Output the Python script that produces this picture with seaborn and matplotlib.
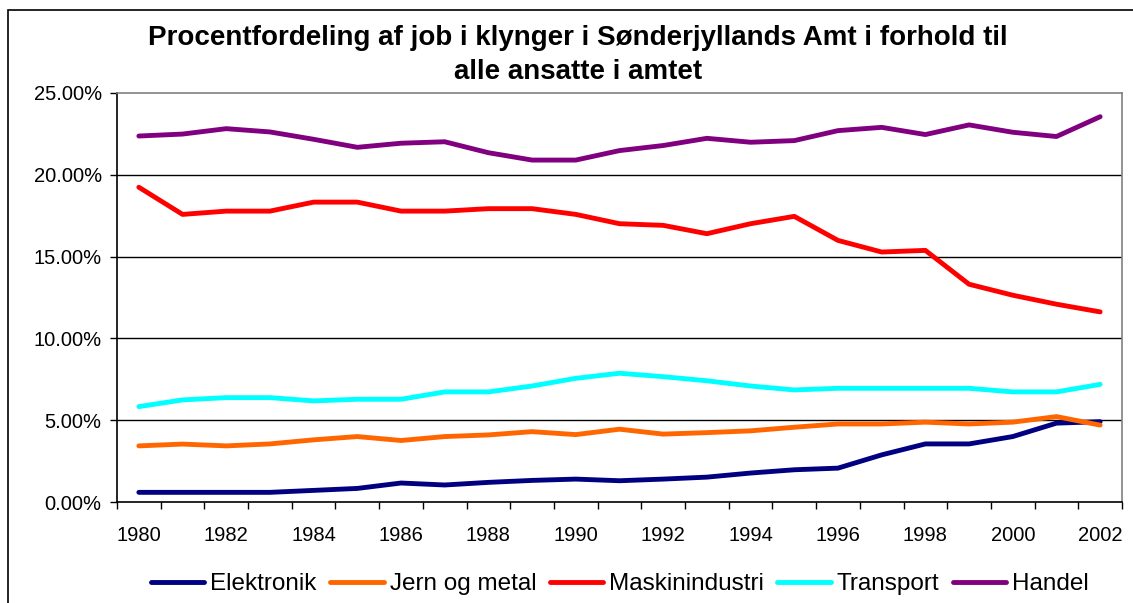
import numpy as np
import pandas as pd
import matplotlib
matplotlib.use("Agg")
import matplotlib.pyplot as plt
import matplotlib.patches as mpatches
from matplotlib.ticker import FixedLocator, FuncFormatter
import seaborn as sns

years = list(range(1980, 2003))

elektronik = [0.59, 0.59, 0.59, 0.59, 0.71, 0.83, 1.16, 1.04, 1.20, 1.32, 1.40, 1.30,
              1.40, 1.52, 1.77, 1.97, 2.07, 2.88, 3.55, 3.55, 4.00, 4.82, 4.91]
jern_og_metal = [3.43, 3.54, 3.43, 3.55, 3.80, 4.00, 3.76, 4.00, 4.10, 4.30, 4.12, 4.45,
                 4.15, 4.24, 4.35, 4.57, 4.77, 4.77, 4.88, 4.77, 4.88, 5.22, 4.70]
maskinindustri = [19.24, 17.58, 17.78, 17.78, 18.33, 18.33, 17.78, 17.78, 17.93, 17.93, 17.58, 17.01,
                  16.91, 16.40, 17.01, 17.46, 15.99, 15.28, 15.38, 13.31, 12.64, 12.09, 11.62]
transport = [5.83, 6.24, 6.38, 6.38, 6.18, 6.28, 6.28, 6.73, 6.73, 7.09, 7.56, 7.87,
             7.66, 7.41, 7.09, 6.85, 6.95, 6.95, 6.95, 6.95, 6.73, 6.73, 7.19]
handel = [22.37, 22.49, 22.82, 22.62, 22.17, 21.68, 21.93, 22.02, 21.35, 20.90, 20.90, 21.48,
          21.79, 22.23, 21.99, 22.09, 22.70, 22.90, 22.46, 23.05, 22.60, 22.34, 23.55]

series_names = ["Elektronik", "Jern og metal", "Maskinindustri", "Transport", "Handel"]
series_values = [elektronik, jern_og_metal, maskinindustri, transport, handel]
colors = ["#000080", "#FF6600", "#FF0000", "#00FFFF", "#800080"]

title = "Procentfordeling af job i klynger i Sønderjyllands Amt i forhold til\nalle ansatte i amtet"

rows = []
for name, vals in zip(series_names, series_values):
    for i, (yr, v) in enumerate(zip(years, vals)):
        rows.append({"pos": i, "year": yr, "serie": name, "pct": v})
df = pd.DataFrame(rows)

sns.set_theme(style="white")
plt.rcParams["font.family"] = ["Liberation Sans", "DejaVu Sans"]
plt.rcParams["text.color"] = "black"

fig = plt.figure(figsize=(11.33, 6.03), dpi=100)
ax = fig.add_axes([117 / 1133, 101 / 603, (1122 - 117) / 1133, (502 - 93) / 603])

sns.lineplot(data=df, x="pos", y="pct", hue="serie", hue_order=series_names,
             palette=colors, linewidth=3.5, ax=ax, legend=True)

n = len(years)
ax.set_xlim(-0.5, n - 0.5)
ax.set_ylim(0, 25)

# category axis: labels at centres, tick marks at boundaries
ax.xaxis.set_major_locator(FixedLocator(list(range(0, n, 2))))
ax.set_xticklabels([str(y) for y in years[::2]])
ax.xaxis.set_minor_locator(FixedLocator(np.arange(-0.5, n, 1)))
ax.tick_params(axis="x", which="major", length=0, pad=17, labelsize=14.5, colors="black")
ax.tick_params(axis="x", which="minor", length=5, width=1, color="black", direction="out", bottom=True)

ax.set_yticks([0, 5, 10, 15, 20, 25])
ax.yaxis.set_major_formatter(FuncFormatter(lambda v, p: f"{v:.2f}%"))
ax.tick_params(axis="y", length=5, width=1, color="black", direction="out", left=True,
               labelsize=14.5, pad=6, colors="black")

ax.grid(False)
for g in [5, 10, 15, 20]:
    ax.axhline(g, color="black", linewidth=1, zorder=0)

ax.set_xlabel("")
ax.set_ylabel("")

for side in ["left", "bottom"]:
    ax.spines[side].set_color("black")
    ax.spines[side].set_linewidth(1.2)
for side in ["top", "right"]:
    ax.spines[side].set_color("#808080")
    ax.spines[side].set_linewidth(1.2)

handles, labels = ax.get_legend_handles_labels()
ax.get_legend().remove()
fig.legend(handles, labels, loc="center", bbox_to_anchor=(620 / 1133, 1 - 584 / 603),
           ncol=5, frameon=False, fontsize=17.5, handlelength=2.2, handletextpad=0.25,
           columnspacing=0.55, borderaxespad=0, labelcolor="black")

fig.text(578 / 1133, 1 - 55 / 603, title, ha="center", va="center", color="black",
         fontsize=20, fontweight="bold", linespacing=1.4)

# outer chart border (runs off the right and bottom edges)
fig.patches.append(mpatches.Rectangle((8 / 1133, -0.05), 1.1, 1 - 10 / 603 + 0.05,
                                      transform=fig.transFigure, fill=False,
                                      edgecolor="black", linewidth=1.2))

fig.savefig("out.png", dpi=100)
